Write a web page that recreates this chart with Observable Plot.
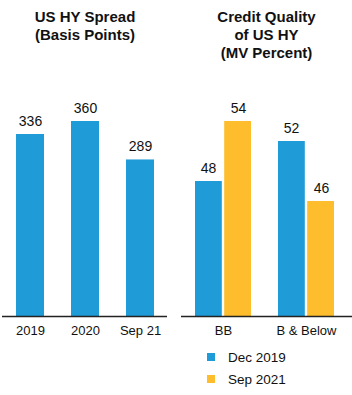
<!DOCTYPE html>
<html><head><meta charset="utf-8">
<script src="https://cdn.jsdelivr.net/npm/d3@7"></script>
<script src="https://cdn.jsdelivr.net/npm/@observablehq/plot@0.6"></script>
<style>
  body { margin: 0; background: #fff; font-family: Arial, "Liberation Sans", sans-serif; color: #111; }
  #wrap { position: relative; width: 352px; height: 395px; overflow: hidden; }
  .title { position: absolute; top: 8px; font-weight: bold; font-size: 15px; line-height: 18px; text-align: center; }
  .chart { position: absolute; top: 70px; }
  #legend { position: absolute; left: 207px; top: 346px; font-size: 13.5px; }
  .item { display: flex; align-items: center; height: 22px; }
  .sw { width: 8px; height: 8px; margin-right: 13px; }
</style>
</head><body>
<div id="wrap">
  <div class="title" style="left:0;width:170px;">US HY Spread<br>(Basis Points)</div>
  <div class="title" style="left:181px;width:171px;">Credit Quality<br>of US HY<br>(MV Percent)</div>
  <div class="chart" id="left" style="left:0;"></div>
  <div class="chart" id="right" style="left:176px;"></div>
  <div id="legend"></div>
</div>
<script>
const spreadPeriods = ["2019", "2020", "Sep 21"];
const spreadValues = [336, 360, 289];
const qualityCats = ["BB", "B & Below"];
const seriesNames = ["Dec 2019", "Sep 2021"];
const dec2019Values = [48, 52];
const sep2021Values = [54, 46];

const BLUE = "#1f9bd7";
const YELLOW = "#fdbd2c";
const FONT = "Arial, 'Liberation Sans', sans-serif";

const spread = spreadPeriods.map((p, i) => ({period: p, value: spreadValues[i]}));
const decData = qualityCats.map((c, i) => ({cat: c, value: dec2019Values[i]}));
const sepData = qualityCats.map((c, i) => ({cat: c, value: sep2021Values[i]}));

const style = {fontFamily: FONT, fontSize: "13px", color: "#111", background: "transparent"};

const left = Plot.plot({
  width: 170, height: 276,
  marginLeft: 2, marginRight: 3, marginTop: 51, marginBottom: 30,
  style,
  x: {type: "band", domain: spreadPeriods, paddingInner: 0.5, paddingOuter: 0.25, label: null, tickSize: 0, tickPadding: 9},
  y: {domain: [0, 360], axis: null},
  marks: [
    Plot.barY(spread, {x: "period", y: "value", fill: BLUE}),
    Plot.text(spread, {x: "period", y: "value", text: d => String(d.value), dy: -13, fontSize: 14, fill: "#111"}),
    Plot.ruleY([0], {stroke: "#222", strokeWidth: 1.5})
  ]
});
document.getElementById("left").appendChild(left);

const W = 56.4, inset = 29.2, off = (W - (W - inset)) / 2 + 0.4;
const right = Plot.plot({
  width: 176, height: 276,
  marginLeft: 5, marginRight: 0, marginTop: 51, marginBottom: 30,
  style,
  x: {type: "band", domain: qualityCats, paddingInner: 0.32, paddingOuter: 0.19, align: 0.45, label: null, tickSize: 0, tickPadding: 9},
  y: {domain: [34.5, 54], axis: null},
  marks: [
    Plot.barY(decData, {x: "cat", y1: 34.5, y2: "value", fill: BLUE, insetRight: inset}),
    Plot.barY(sepData, {x: "cat", y1: 34.5, y2: "value", fill: YELLOW, insetLeft: inset}),
    Plot.text(decData, {x: "cat", y: "value", text: d => String(d.value), dx: -off, dy: -13, fontSize: 14, fill: "#111"}),
    Plot.text(sepData, {x: "cat", y: "value", text: d => String(d.value), dx: off, dy: -13, fontSize: 14, fill: "#111"}),
    Plot.ruleY([34.5], {stroke: "#222", strokeWidth: 1.5})
  ]
});
document.getElementById("right").appendChild(right);

const legend = document.getElementById("legend");
[BLUE, YELLOW].forEach((c, i) => {
  const it = document.createElement("div");
  it.className = "item";
  it.innerHTML = `<span class="sw" style="background:${c}"></span><span>${seriesNames[i]}</span>`;
  legend.appendChild(it);
});
</script>
</body></html>
